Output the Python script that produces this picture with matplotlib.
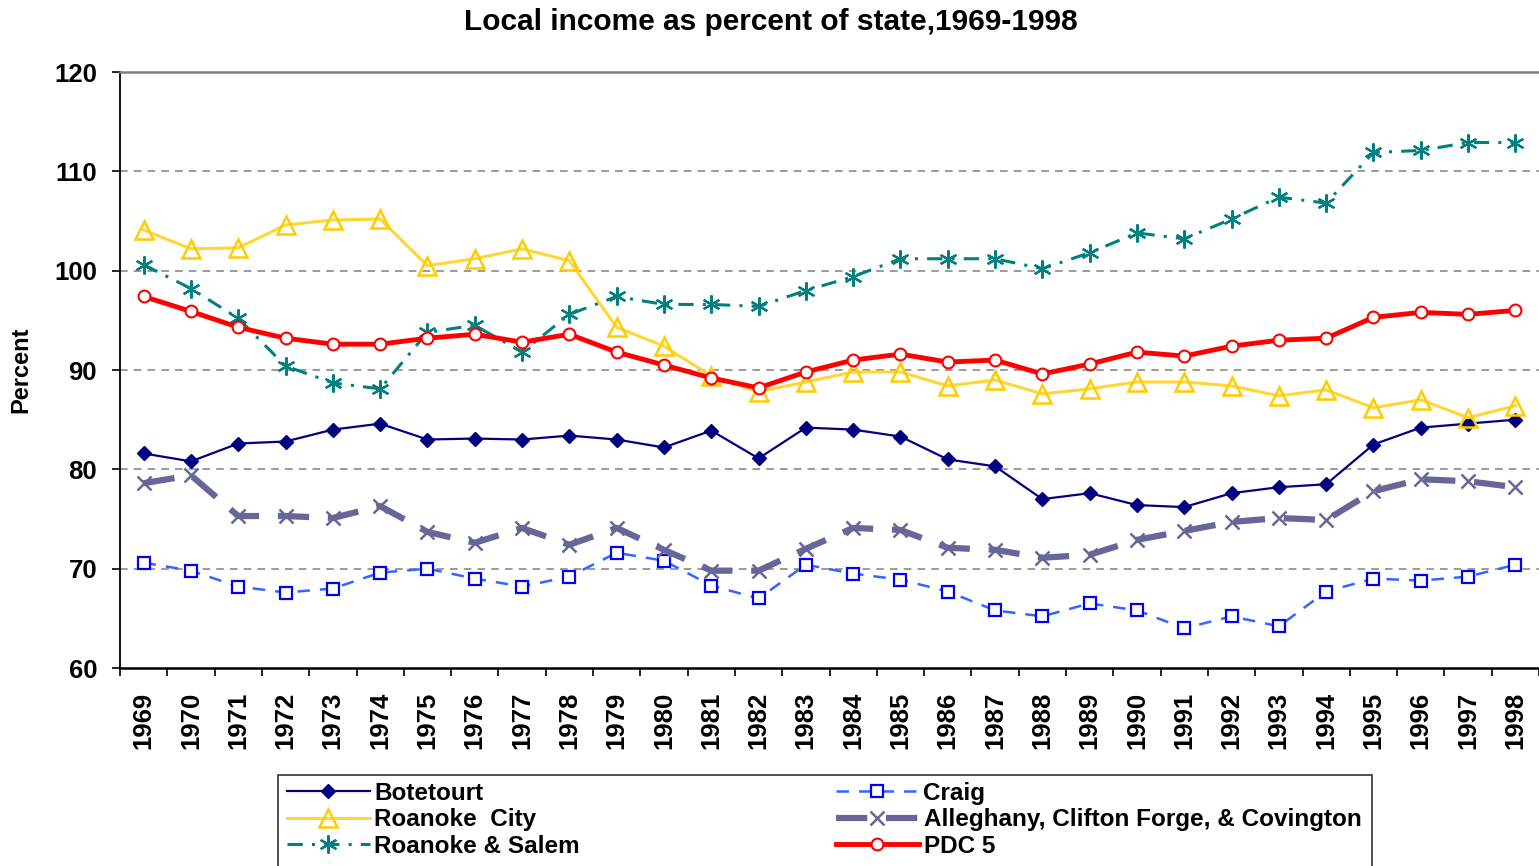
import numpy as np
import matplotlib
matplotlib.use("Agg")
import matplotlib.pyplot as plt
from matplotlib.patches import Rectangle

plt.rcParams['font.family'] = ['Liberation Sans', 'DejaVu Sans']
plt.rcParams['font.weight'] = 'bold'

years = list(range(1969, 1999))

botetourt = [81.6, 80.8, 82.6, 82.8, 84.0, 84.6, 83.0, 83.1, 83.0, 83.4, 83.0, 82.2, 83.9, 81.1, 84.2,
             84.0, 83.3, 81.0, 80.3, 77.0, 77.6, 76.4, 76.2, 77.6, 78.2, 78.5, 82.5, 84.2, 84.6, 85.0]
craig = [70.6, 69.8, 68.2, 67.6, 68.0, 69.6, 70.0, 69.0, 68.2, 69.2, 71.6, 70.8, 68.3, 67.0, 70.4,
         69.5, 68.9, 67.7, 65.8, 65.2, 66.5, 65.8, 64.0, 65.2, 64.2, 67.7, 69.0, 68.8, 69.2, 70.4]
roanoke_city = [104.1, 102.2, 102.3, 104.6, 105.1, 105.2, 100.5, 101.2, 102.2, 101.0, 94.3, 92.4, 89.4, 87.8, 88.8,
                89.8, 89.8, 88.4, 89.0, 87.6, 88.1, 88.8, 88.8, 88.4, 87.4, 88.0, 86.2, 87.0, 85.2, 86.4]
alleghany = [78.6, 79.4, 75.3, 75.3, 75.1, 76.3, 73.7, 72.6, 74.1, 72.4, 74.1, 71.9, 69.8, 69.8, 72.0,
             74.1, 73.9, 72.1, 71.9, 71.1, 71.4, 72.9, 73.8, 74.7, 75.1, 74.9, 77.8, 79.0, 78.8, 78.2]
roanoke_salem = [100.6, 98.2, 95.2, 90.4, 88.7, 88.1, 93.8, 94.5, 91.8, 95.6, 97.4, 96.6, 96.6, 96.4, 98.0,
                 99.4, 101.2, 101.2, 101.2, 100.2, 101.8, 103.8, 103.2, 105.2, 107.4, 106.8, 111.9, 112.1, 112.9, 112.9]
pdc5 = [97.4, 95.9, 94.3, 93.2, 92.6, 92.6, 93.2, 93.6, 92.8, 93.6, 91.8, 90.5, 89.2, 88.2, 89.8,
        91.0, 91.6, 90.8, 91.0, 89.6, 90.6, 91.8, 91.4, 92.4, 93.0, 93.2, 95.3, 95.8, 95.6, 96.0]

W, H = 1539, 866
fig = plt.figure(figsize=(W / 100, H / 100), dpi=100)
ax = fig.add_axes([120 / W, 1 - 668 / H, 1 - 120 / W, (668 - 72) / H])

l_bot, = ax.plot(years, botetourt, color='#000080', lw=1.6, marker='D', ms=7.5,
                 mfc='#000080', mec='#000080', label='Botetourt', zorder=3)
l_craig, = ax.plot(years, craig, color='#3366FF', lw=1.8, dashes=(5, 4), marker='s', ms=8,
                   mfc='white', mec='#0000FF', mew=1.6, label='Craig', zorder=3)
l_city, = ax.plot(years, roanoke_city, color='#FFD633', lw=2.2, marker='^', ms=13,
                  mfc='none', mec='#FFCC00', mew=1.8, label='Roanoke  City', zorder=3)
l_all, = ax.plot(years, alleghany, color='#666699', lw=4.5, dashes=(5, 3), marker='x', ms=10,
                 mew=1.8, mec='#666699', label='Alleghany, Clifton Forge, & Covington', zorder=3)
l_rs, = ax.plot(years, roanoke_salem, color='#008080', lw=2.2, dashes=(5, 3, 1, 3), marker=(6, 2, 0), ms=13,
                mew=1.6, mec='#008080', label='Roanoke & Salem', zorder=3)
l_pdc, = ax.plot(years, pdc5, color='#FF0000', lw=3.5, marker='o', ms=8.5,
                 mfc='white', mec='#FF0000', mew=1.5, label='PDC 5', zorder=4)

ax.set_xlim(1968.5, 1998.5)
ax.set_ylim(60, 120)
ax.set_yticks(range(60, 121, 10))
ax.set_xticks(years)
ax.set_xticks(np.arange(1968.5, 1999, 1), minor=True)
ax.tick_params(axis='x', which='major', length=0, pad=17, labelsize=18.5, rotation=90)
ax.tick_params(axis='x', which='minor', length=6, width=1.2, direction='out')
ax.tick_params(axis='y', length=5.5, width=1.2, pad=11, labelsize=18.5)
for lab in ax.get_xticklabels() + ax.get_yticklabels():
    lab.set_fontweight('bold')

for v in range(70, 120, 10):
    ax.axhline(v, color='#808080', lw=1.1, dashes=(5, 4), zorder=1)

ax.spines['right'].set_visible(False)
ax.spines['top'].set_color('#808080')
ax.spines['top'].set_linewidth(1.8)
ax.spines['left'].set_linewidth(1.3)
ax.spines['bottom'].set_linewidth(1.8)

ax.set_ylabel('Percent', fontsize=17, fontweight='bold')
ax.yaxis.set_label_coords(-0.062, 0.5)
fig.text(771 / W, 1 - 22 / H, 'Local income as percent of state,1969-1998', ha='center', va='center',
         fontsize=21.5, fontweight='bold')

# legend: two frameless columns inside one drawn box
fig.patches.append(Rectangle((278 / W, -0.02), (1372 - 278) / W, 0.02 + 1 - 775 / H,
                             transform=fig.transFigure, fill=False, ec='#333333', lw=1.2))
common = dict(frameon=False, loc='upper left', handlelength=3.4, handletextpad=0.2,
              labelspacing=0.14, borderpad=0, borderaxespad=0, numpoints=1,
              prop={'weight': 'bold', 'size': 17.5})
leg1 = fig.legend(handles=[l_bot, l_city, l_rs], bbox_to_anchor=(287 / W, 1 - 782 / H), **common)
leg2 = fig.legend(handles=[l_craig, l_all, l_pdc], bbox_to_anchor=(836 / W, 1 - 782 / H), **common)

fig.savefig('out.png', dpi=100)
